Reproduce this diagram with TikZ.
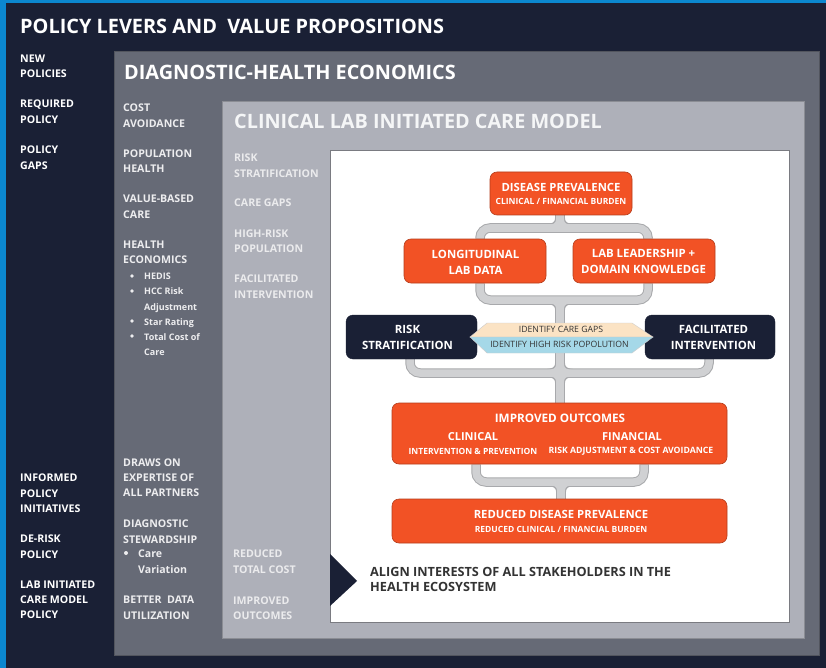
\documentclass[tikz,border=0pt]{standalone}
\usepackage{fontspec}
\setmainfont{Open Sans}
\usetikzlibrary{calc}
\definecolor{navy}{HTML}{1A2035}
\definecolor{bluestrip}{HTML}{0B87CF}
\definecolor{panelmid}{HTML}{666A76}
\definecolor{panellight}{HTML}{AEB0B9}
\definecolor{orangebox}{HTML}{F25225}
\definecolor{tubefill}{HTML}{D0D1D3}
\definecolor{tubeedge}{HTML}{A8A9AC}
\definecolor{peach}{HTML}{FBE3C4}
\definecolor{skyb}{HTML}{A5D8E8}
\pgfdeclarelayer{front}
\pgfsetlayers{main,front}
\tikzset{
  x=1pt,y=-1pt,
  panel/.style={draw=#1!80!black,fill=#1,line width=0.9pt},
  orangenode/.style={draw=orangebox!75!black,fill=orangebox,rounded corners=7pt,line width=0.6pt,
    inner sep=0pt,text=white,align=center,font=\bfseries},
  navynode/.style={draw=navy,fill=navy,rounded corners=7pt,inner sep=0pt,text=white,align=center},
  boxtext/.style={text=white,inner sep=0pt,align=center,font=\fontsize{#1}{#1}\selectfont\bfseries},
  listtext/.style={anchor=north west,inner sep=0pt,align=left,font=\fontsize{10.6}{15.2}\selectfont\bfseries},
  whitetxt/.style={listtext,text=white},
  midtxt/.style={listtext,text=white!88!panelmid},
  lighttxt/.style={listtext,text=white!75!panellight},
  tubeout/.style={draw=tubeedge,line width=9.5pt,rounded corners=10pt},
  tubein/.style={draw=tubefill,line width=7.5pt,rounded corners=10pt},
  hexlabel/.style={inner sep=0pt,text=black!80,font=\fontsize{8.7}{10}\selectfont},
}
\newcommand{\boxline}[2]{{\fontsize{#1}{#1}\selectfont #2}}
\newcommand{\flare}[4]{%
  \begin{scope}[shift={(#1)},yscale=#2]
    \fill[#3] (-12-#4,-3-#4) .. controls (-7-#4,-3.75-#4) and (-3.75-#4,-4-#4) .. (-3.75-#4,-10-#4)
      -- (3.75+#4,-10-#4) .. controls (3.75+#4,-4-#4) and (7+#4,-3.75-#4) .. (12+#4,-3-#4) -- cycle;
  \end{scope}}
\begin{document}
\begin{tikzpicture}
\useasboundingbox (0,0) rectangle (826,668);
\fill[navy] (0,0) rectangle (826,668);
\fill[bluestrip] (0,0) rectangle (826,3);
\fill[bluestrip] (0,0) rectangle (6,668);
\draw[panel=panelmid] (114,51) rectangle (819,655);
\draw[panel=panellight] (222,101) rectangle (804,638);
\draw[draw=panellight!70!black,fill=white,line width=0.9pt] (330,150) rectangle (789,622);

\node[anchor=west,inner sep=0pt,text=white,font=\fontsize{19.9}{24}\selectfont\bfseries] (ttl) at (20,26) {POLICY LEVERS AND\ \ VALUE PROPOSITIONS};
\node[anchor=west,inner sep=0pt,text=white,font=\fontsize{19.85}{22}\selectfont\bfseries] (ttlb) at (124,72.5) {DIAGNOSTIC-HEALTH ECONOMICS};
\node[anchor=west,inner sep=0pt,text=white!88!panellight,font=\fontsize{19.8}{22}\selectfont\bfseries] (ttlc) at (234,121.5) {CLINICAL LAB INITIATED CARE MODEL};

\node[whitetxt] (l1) at (20,55) {NEW\\POLICIES};
\node[whitetxt] (l2) at (20,100) {REQUIRED\\POLICY};
\node[whitetxt] (l3) at (20,146) {POLICY\\GAPS};
\node[whitetxt] (l4) at (20,474) {INFORMED\\POLICY\\INITIATIVES};
\node[whitetxt] (l5) at (20,535) {DE-RISK\\POLICY};
\node[whitetxt] (l6) at (20,580.5) {LAB INITIATED\\CARE MODEL\\POLICY};

\node[midtxt] (m1) at (123,104) {COST\\AVOIDANCE};
\node[midtxt] (m2) at (123,149.5) {POPULATION\\HEALTH};
\node[midtxt] (m3) at (123,195) {VALUE-BASED\\CARE};
\node[midtxt] (m4) at (123,241) {HEALTH\\ECONOMICS};
\node[midtxt,font=\fontsize{9}{15.2}\selectfont\bfseries] (m4a) at (144,273) {HEDIS\\HCC Risk\\Adjustment\\Star Rating\\Total Cost of\\Care};
\foreach \yy/\nn in {276/a,291/b,321/c,336/d}
  \fill[white!88!panelmid] (132,\yy) circle (1.8) coordinate (bul\nn);
\node[midtxt] (m5) at (123,458.5) {DRAWS ON\\EXPERTISE OF\\ALL PARTNERS};
\node[midtxt] (m6) at (123,520) {DIAGNOSTIC\\STEWARDSHIP};
\node[midtxt] (m6a) at (138,550) {Care\\Variation};
\fill[white!88!panelmid] (126,553) circle (2) coordinate (bule);
\node[midtxt] (m7) at (123,596) {BETTER\ \ DATA\\UTILIZATION};

\node[lighttxt] (r1) at (234,154) {RISK\\STRATIFICATION};
\node[lighttxt] (r2) at (234,198.5) {CARE GAPS};
\node[lighttxt] (r3) at (234,229.5) {HIGH-RISK\\POPULATION};
\node[lighttxt] (r4) at (234,275) {FACILITATED\\INTERVENTION};
\node[lighttxt] (r5) at (233,550) {REDUCED\\TOTAL COST};
\node[lighttxt] (r6) at (233,596.5) {IMPROVED\\OUTCOMES};

\begin{pgfonlayer}{front}
\node[orangenode,minimum width=142pt,minimum height=43pt] (dis) at (561,193.5) {};
\node[boxtext=11.3] (dist) at (561,187.5) {DISEASE PREVALENCE};
\node[boxtext=8.5] (diss) at (561,201) {CLINICAL / FINANCIAL BURDEN};
\node[orangenode,minimum width=142pt,minimum height=44pt] (lon) at (475,261) {};
\node[boxtext=11.4] (lont) at (475.5,254.5) {LONGITUDINAL};
\node[boxtext=11.4] (lons) at (475.5,270.5) {LAB DATA};
\node[orangenode,minimum width=142pt,minimum height=44pt] (lab) at (644,261) {};
\node[boxtext=11.4] (labt) at (643.5,253) {LAB LEADERSHIP +};
\node[boxtext=11.4] (labs) at (643.5,269) {DOMAIN KNOWLEDGE};
\node[navynode,minimum width=131pt,minimum height=44pt] (ris) at (411.5,337) {};
\node[boxtext=11.4] (rist) at (407.5,329) {RISK};
\node[boxtext=11.4] (riss) at (407.5,345) {STRATIFICATION};
\node[navynode,minimum width=130pt,minimum height=44pt] (fac) at (710,337) {};
\node[boxtext=11.4] (fact) at (713.5,329) {FACILITATED};
\node[boxtext=11.4] (facs) at (713.5,345) {INTERVENTION};
\fill[peach,draw=white!80!black,line width=0.4pt] (470,337) -- (487,323) -- (632,323) -- (653,337) -- cycle;
\fill[skyb,draw=white!80!black,line width=0.4pt] (470,337) -- (487,353) -- (632,353) -- (653,337) -- cycle;
\node[hexlabel] (gaps) at (561,329.5) {IDENTIFY CARE GAPS};
\node[hexlabel] (pop) at (559.5,344) {IDENTIFY HIGH RISK POPOLUTION};
\node[orangenode,minimum width=335pt,minimum height=61pt] (imp) at (559.5,433.5) {};
\node[boxtext=11.7] (impt) at (560,418.5) {IMPROVED OUTCOMES};
\node[boxtext=11] (impc) at (473,437) {CLINICAL};
\node[boxtext=11] (impf) at (632,437) {FINANCIAL};
\node[boxtext=8.5] (impc2) at (473,451) {INTERVENTION \& PREVENTION};
\node[boxtext=8.7] (impf2) at (631,451) {RISK ADJUSTMENT \& COST AVOIDANCE};
\node[orangenode,minimum width=335pt,minimum height=44pt] (red) at (559.5,521) {};
\node[boxtext=11.3] (redt) at (561,514.5) {REDUCED DISEASE PREVALENCE};
\node[boxtext=8.5] (reds) at (561,529.5) {REDUCED CLINICAL / FINANCIAL BURDEN};
\end{pgfonlayer}

\coordinate (busa) at (560,228);
\coordinate (busb) at (560,300);
\coordinate (busc) at (560,373);
\coordinate (busd) at (561,482);
\foreach \st/\cc/\ee in {tubeout/tubeedge/1,tubein/tubefill/0}{
  \draw[\st] ([xshift=5pt]lon.north) |- (busa) -| ([xshift=4pt]lab.north);
  \draw[\st,rounded corners=0pt] (dis.south -| busa) -- (busa);
  \draw[\st] ([xshift=5pt]lon.south) |- (busb) -| ([xshift=4pt]lab.south);
  \draw[\st] ([xshift=-1.5pt]ris.south) |- (busc) -| ([xshift=-1pt]fac.south);
  \draw[\st,rounded corners=0pt] (busb) -- (imp.north -| busb);
  \draw[\st] ([xshift=-83.5pt]imp.south) |- (busd) -| ([xshift=84.5pt]imp.south);
  \draw[\st,rounded corners=0pt] (busd) -- (red.north -| busd);
  \flare{busa}{1}{\cc}{\ee}
  \flare{busb}{-1}{\cc}{\ee}
  \flare{busc}{1}{\cc}{\ee}
  \flare{busc}{-1}{\cc}{\ee}
  \flare{busd}{-1}{\cc}{\ee}
}
\fill[navy] (330,554) -- (357,581) -- (330,606) -- cycle;
\node[anchor=north west,inner sep=0pt,align=left,text=black!80,font=\fontsize{12.7}{15}\selectfont\bfseries] (aln) at (370,567.5)
  {ALIGN INTERESTS OF ALL STAKEHOLDERS IN THE\\HEALTH ECOSYSTEM};
\end{tikzpicture}
\end{document}
